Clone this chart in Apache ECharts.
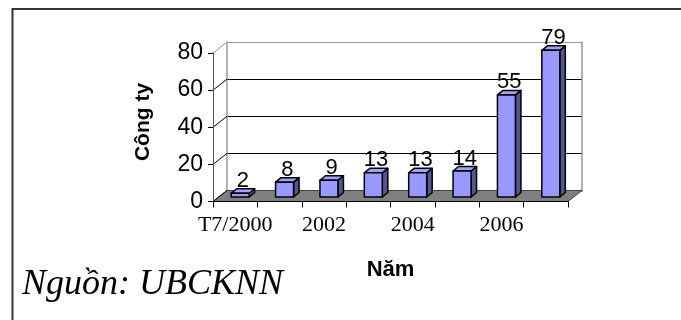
<!DOCTYPE html>
<html>
<head>
<meta charset="utf-8">
<script src="https://cdn.jsdelivr.net/npm/echarts@6/dist/echarts.min.js"></script>
<style>
  html, body { margin: 0; padding: 0; background: #fff; }
  #chart { width: 681px; height: 320px; }
</style>
</head>
<body>
<div id="chart"></div>
<script>
// data
const categories = ["T7/2000", "2001", "2002", "2003", "2004", "2005", "2006", "2007"];
const companies = [2, 8, 9, 13, 13, 14, 55, 79];
const yTicks = [0, 20, 40, 60, 80];

// 3D look: wall depth and bar depth (px)
const DX = 14, DY = 11;
const FRONT = { left: 213, top: 53, width: 355, height: 148.5 };

const chart = echarts.init(document.getElementById("chart"));

function renderWalls(params, api) {
  const cs = params.coordSys;
  const x0 = cs.x, x1 = cs.x + cs.width;
  const y0 = api.coord([0, 0])[1];
  const children = [];
  // floor
  children.push({
    type: "polygon",
    shape: { points: [[x0, y0], [x1, y0], [x1 + DX, y0 - DY], [x0 + DX, y0 - DY]] },
    style: { fill: "#808080", stroke: "#404040", lineWidth: 1 }
  });
  // side wall lines at each tick level
  yTicks.forEach((v, i) => {
    const y = api.coord([0, v])[1];
    children.push({
      type: "line",
      shape: { x1: x0, y1: y, x2: x0 + DX, y2: y - DY },
      style: { stroke: i === yTicks.length - 1 ? "#999" : "#000", lineWidth: 1 }
    });
  });
  return { type: "group", children };
}

function renderBar(params, api) {
  const idx = api.value(0);
  const val = api.value(1);
  const base = api.coord([idx, 0]);
  const top = api.coord([idx, val]);
  const w = 18, ox = 5, oy = 4.5, dx = 5.5, dy = 4.5;
  const l = base[0] + ox - w / 2, r = l + w;
  const b = base[1] - oy, t = top[1] - oy;
  const stroke = { stroke: "#000", lineWidth: 1.5, lineJoin: "round" };
  return {
    type: "group",
    children: [
      { type: "polygon", shape: { points: [[r, t], [r + dx, t - dy], [r + dx, b - dy], [r, b]] },
        style: Object.assign({ fill: "#55558f" }, stroke) },
      { type: "polygon", shape: { points: [[l, t], [r, t], [r + dx, t - dy], [l + dx, t - dy]] },
        style: Object.assign({ fill: "#a3a3ff" }, stroke) },
      { type: "rect", shape: { x: l, y: t, width: w, height: b - t },
        style: Object.assign({ fill: "#9999ff" }, stroke) },
      { type: "text",
        style: { text: String(val), x: (l + r) / 2 + dx / 2, y: t - dy - 8,
          align: "center", verticalAlign: "middle",
          font: "22px 'Liberation Sans', Arial, sans-serif", fill: "#000" } }
    ]
  };
}

const option = {
  animation: false,
  grid: [
    { left: FRONT.left, top: FRONT.top, width: FRONT.width, height: FRONT.height,
      containLabel: false, outerBoundsMode: "none" },
    { left: FRONT.left + DX, top: FRONT.top - DY, width: FRONT.width, height: FRONT.height,
      containLabel: false, outerBoundsMode: "none" }
  ],
  xAxis: [
    {
      gridIndex: 0, type: "category", data: categories, boundaryGap: true, z: 5,
      axisLine: { show: true, lineStyle: { color: "#000", width: 1 } },
      axisTick: { show: true, interval: 0, length: 6, lineStyle: { color: "#000" } },
      axisLabel: { interval: 1, margin: 13, color: "#000",
        fontFamily: "'Liberation Serif', 'Times New Roman', serif", fontSize: 22 },
      splitLine: { show: false },
      name: "Năm", nameLocation: "middle", nameGap: 57,
      nameTextStyle: { color: "#000", fontFamily: "'Liberation Sans', Arial, sans-serif",
        fontSize: 22, fontWeight: "bold" }
    },
    {
      gridIndex: 1, type: "category", data: categories, position: "top",
      axisLine: { show: true, lineStyle: { color: "#999", width: 2 } },
      axisTick: { show: false }, axisLabel: { show: false }, splitLine: { show: false }
    }
  ],
  yAxis: [
    {
      gridIndex: 0, type: "value", min: 0, max: 80, interval: 20, z: 5,
      axisLine: { show: true, lineStyle: { color: "#555", width: 1 } },
      axisTick: { show: true, length: 5, lineStyle: { color: "#000" } },
      axisLabel: { margin: 10, color: "#000", padding: [0, 0, 5, 0],
        fontFamily: "'Liberation Sans', Arial, sans-serif", fontSize: 23 },
      splitLine: { show: false }
    },
    {
      gridIndex: 1, type: "value", min: 0, max: 80, interval: 20,
      axisLine: { show: true, lineStyle: { color: "#999", width: 1.5 } },
      axisTick: { show: false }, axisLabel: { show: false },
      splitLine: { show: true, lineStyle: { color: ["#000", "#000", "#000", "#000", "#999"], width: 1 } }
    },
    {
      gridIndex: 1, type: "value", min: 0, max: 80, interval: 20, position: "right",
      axisLine: { show: true, lineStyle: { color: "#999", width: 1.5 } },
      axisTick: { show: false }, axisLabel: { show: false }, splitLine: { show: false }
    }
  ],
  graphic: [
    { type: "rect", left: 10, top: 6.5, shape: { x: 0, y: 0, width: 700, height: 400 },
      style: { fill: "none", stroke: "#333", lineWidth: 2 } },
    { type: "text", x: 143, y: 122, rotation: Math.PI / 2,
      style: { text: "Công ty", fill: "#000", align: "center", verticalAlign: "middle",
        font: "bold 21px 'Liberation Sans', Arial, sans-serif" } },
    { type: "text", x: 22, y: 285,
      style: { text: "Nguồn: UBCKNN", fill: "#000", verticalAlign: "middle",
        font: "italic 36px 'Liberation Serif', 'Times New Roman', serif" } }
  ],
  series: [
    { type: "custom", name: "walls", xAxisIndex: 0, yAxisIndex: 0, z: 1,
      renderItem: renderWalls, data: [[0, 0]], silent: true },
    { type: "custom", name: "Công ty", xAxisIndex: 0, yAxisIndex: 0, z: 3,
      renderItem: renderBar, encode: { x: 0, y: 1 },
      data: categories.map((c, i) => [i, companies[i]]) }
  ]
};

chart.setOption(option);
</script>
</body>
</html>
